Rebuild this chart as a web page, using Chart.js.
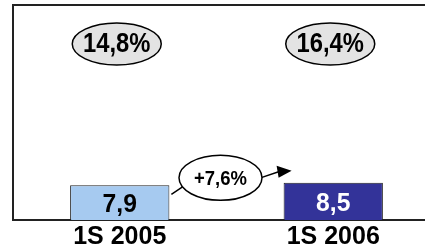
<!DOCTYPE html>
<html>
<head>
<meta charset="utf-8">
<script src="https://cdn.jsdelivr.net/npm/chart.js@4"></script>
<style>
  html, body { margin: 0; padding: 0; background: #fff; }
  #wrap { width: 425px; height: 247px; overflow: hidden; position: relative; }
  #chart { position: absolute; left: 0; top: 0; }
</style>
</head>
<body>
<div id="wrap"><canvas id="chart" width="440" height="247"></canvas></div>
<script>
// data
const periods = ['1S 2005', '1S 2006'];
const values = [7.9, 8.5];
const valueLabels = ['7,9', '8,5'];
const margins = ['14,8%', '16,4%'];
const growthLabel = '+7,6%';

const barColors = ['#A6CAF0', '#333399'];
const valueColors = ['#000000', '#FFFFFF'];

const FONT = "'Liberation Sans', Arial, sans-serif";

// text slightly squeezed, like the original slide font
function squeezedText(ctx, text, x, y, size, sx) {
  ctx.save();
  ctx.translate(x, y);
  ctx.scale(sx, 1);
  ctx.font = 'bold ' + size + 'px ' + FONT;
  ctx.textAlign = 'center';
  ctx.textBaseline = 'middle';
  ctx.fillText(text, 0, 0);
  ctx.restore();
}

function ellipse(ctx, x, y, rx, ry, fill, text, size) {
  ctx.beginPath();
  ctx.ellipse(x, y, rx, ry, 0, 0, Math.PI * 2);
  ctx.fillStyle = fill;
  ctx.fill();
  ctx.lineWidth = 1.5;
  ctx.strokeStyle = '#000';
  ctx.stroke();
  ctx.fillStyle = '#000';
  squeezedText(ctx, text, x, y + 1, size, 0.88);
}

const annotations = {
  id: 'annotations',
  afterDatasetsDraw(chart) {
    const {ctx, chartArea} = chart;
    const bars = chart.getDatasetMeta(0).data;
    ctx.save();

    // frame
    ctx.strokeStyle = '#222';
    ctx.lineWidth = 2;
    ctx.beginPath();
    ctx.moveTo(chartArea.left, chartArea.bottom);
    ctx.lineTo(chartArea.left, chartArea.top);
    ctx.lineTo(chartArea.right, chartArea.top);
    ctx.stroke();

    // values inside bars
    bars.forEach(function(bar, i) {
      ctx.fillStyle = valueColors[i];
      squeezedText(ctx, valueLabels[i], bar.x, (bar.y + bar.base) / 2 + 2, 26, 0.95);
    });

    // margin ellipses near top
    bars.forEach(function(bar, i) {
      ellipse(ctx, bar.x - 3, chartArea.top + 39, 44.5, 21, '#E3E3E3', margins[i], 27);
    });

    // growth arrow
    const b1 = bars[0], b2 = bars[1];
    const r1 = b1.x + b1.width / 2;
    const l2 = b2.x - b2.width / 2;
    const cx = (r1 + l2) / 2 - 6;
    const cy = b1.y - 7.5;
    ctx.strokeStyle = '#000';
    ctx.lineWidth = 1.5;
    ctx.beginPath();
    ctx.moveTo(r1 + 2, b1.y + 9);
    ctx.lineTo(cx - 38, cy + 9);
    ctx.moveTo(cx + 40, cy);
    ctx.lineTo(l2 - 5, b2.y - 11);
    ctx.stroke();
    // arrow head
    const tipX = l2 + 8, tipY = b2.y - 12;
    ctx.beginPath();
    ctx.moveTo(tipX, tipY);
    ctx.lineTo(tipX - 15, tipY - 5);
    ctx.lineTo(tipX - 13, tipY + 7);
    ctx.closePath();
    ctx.fillStyle = '#000';
    ctx.fill();

    ellipse(ctx, cx, cy, 41.5, 22.5, '#FFFFFF', growthLabel, 21);
    ctx.restore();
  }
};

new Chart(document.getElementById('chart'), {
  type: 'bar',
  data: {
    labels: periods,
    datasets: [{
      data: values,
      backgroundColor: barColors,
      borderColor: '#222',
      borderWidth: 1,
      borderSkipped: 'bottom',
      barPercentage: 0.465,
      categoryPercentage: 1
    }]
  },
  options: {
    responsive: false,
    animation: false,
    layout: { padding: { left: 13, top: 5, right: 0, bottom: -8 } },
    plugins: { legend: { display: false }, tooltip: { enabled: false } },
    scales: {
      x: {
        grid: { display: false, drawTicks: false },
        border: { display: true, color: '#222', width: 2 },
        ticks: { color: '#000', font: { family: FONT, size: 25, weight: 'bold', lineHeight: 1.0 }, padding: 5 }
      },
      y: {
        display: false,
        min: 0,
        max: 49
      }
    }
  },
  plugins: [annotations]
});
</script>
</body>
</html>
